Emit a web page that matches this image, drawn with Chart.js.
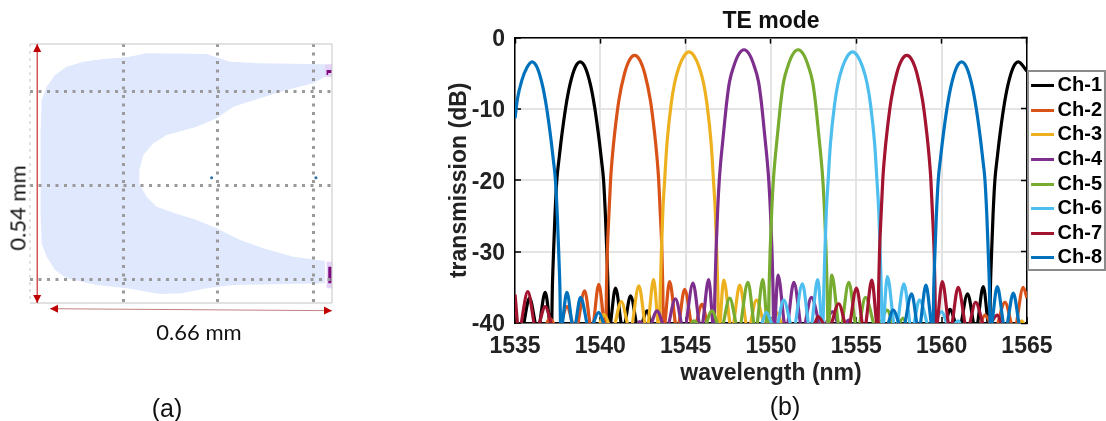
<!DOCTYPE html>
<html>
<head>
<meta charset="utf-8">
<title>TE mode</title>
<script src="https://cdn.jsdelivr.net/npm/chart.js@4"></script>
<style>
    html, body { margin: 0; padding: 0; background: #fff; }
    #page { position: relative; width: 1106px; height: 421px; overflow: hidden; }
    canvas { position: absolute; top: 0; }
    #layout { left: 0; }
    #spectrum { left: 430px; }
    .note { position: absolute; color: #111; white-space: nowrap; transform: translate(-50%, -50%); }
    .dim { font: 22px Lato, sans-serif; }
    .tag { font: 25px "Liberation Sans", sans-serif; }
</style>
</head>
<body>
<div id="page">
    <canvas id="layout" width="350" height="340"></canvas>
    <canvas id="spectrum" width="676" height="400"></canvas>
    <div class="note dim" style="left:199px;top:331px">0.66 mm</div>
    <div class="note dim" style="left:17px;top:208px;transform:translate(-50%,-50%) rotate(-90deg)">0.54 mm</div>
    <div class="note tag" style="left:167px;top:408px">(a)</div>
    <div class="note tag" style="left:785px;top:406px">(b)</div>
</div>
<script>
    // panel (b): wavelength in nm, transmission in dB
    const channels = ['Ch-1', 'Ch-2', 'Ch-3', 'Ch-4', 'Ch-5', 'Ch-6', 'Ch-7', 'Ch-8'];
    const colors = ['#000000', '#D95319', '#EDB120', '#7E2F8E', '#77AC30', '#4DBEEE', '#A2142F', '#0072BD'];
    const xTicks = [1535, 1540, 1545, 1550, 1555, 1560, 1565];
    const yTicks = [-40, -30, -20, -10, 0];

    const ch1Wave = [1535, 1535.38, 1535.85, 1536.33, 1536.77, 1537.14, 1537.19, 1537.26, 1537.34, 1537.45, 1537.57, 1537.69, 1537.97, 1538.22, 1538.52, 1538.82, 1539.12, 1539.42, 1539.67, 1539.95, 1540.07, 1540.19, 1540.3, 1540.38, 1540.45, 1540.5, 1540.89, 1541.33, 1541.77, 1542.25, 1542.75, 1543.1, 1560.15, 1560.48, 1561, 1561.52, 1562, 1562.44, 1562.81, 1562.86, 1562.93, 1563.01, 1563.12, 1563.24, 1563.36, 1563.64, 1563.89, 1564.19, 1564.49, 1565];
    const ch1Loss = [-41, -41, -36.5, -41, -35.7, -41, -35, -30, -25, -20, -17.2, -14.7, -9.8, -6.6, -4.2, -3.4, -4.2, -6.6, -9.8, -14.7, -17.2, -20, -25, -30, -35, -41, -35.1, -41, -36.2, -41, -38.3, -41, -41, -38.1, -41, -35.9, -41, -34.9, -41, -35, -30, -25, -20, -17.2, -14.7, -9.8, -6.6, -4.2, -3.4, -4.7];

    const ch2Wave = [1535, 1536.7, 1537.02, 1537.55, 1538.04, 1538.55, 1539.08, 1539.5, 1539.91, 1540.32, 1540.36, 1540.41, 1540.51, 1540.6, 1540.71, 1540.84, 1541.09, 1541.41, 1541.71, 1542.01, 1542.31, 1542.61, 1542.93, 1543.18, 1543.31, 1543.42, 1543.51, 1543.61, 1543.66, 1543.7, 1544.06, 1544.5, 1544.94, 1545.45, 1545.96, 1546.4, 1562.1, 1562.54, 1563.1, 1563.71, 1564.25, 1564.78, 1565];
    const ch2Loss = [-41, -41, -39.3, -41, -37.7, -41, -35.5, -41, -34.6, -41, -35, -30, -24.5, -20, -16.5, -13.4, -8.75, -5.1, -3.15, -2.5, -3.15, -5.1, -8.75, -13.4, -16.5, -20, -24.5, -30, -35, -41, -34.2, -41, -35.3, -41, -37.4, -41, -41, -38.9, -41, -37.1, -41, -35, -36.5];

    const ch3Wave = [1535, 1539.8, 1540.21, 1540.7, 1541.23, 1541.75, 1542.26, 1542.72, 1543.12, 1543.45, 1543.52, 1543.58, 1543.66, 1543.77, 1543.9, 1544.15, 1544.35, 1544.6, 1544.9, 1545.2, 1545.5, 1545.8, 1546.05, 1546.25, 1546.5, 1546.63, 1546.74, 1546.82, 1546.88, 1546.95, 1547.23, 1547.7, 1548.17, 1548.65, 1549.15, 1549.75, 1550.34, 1550.8, 1564.4, 1564.69, 1565];
    const ch3Loss = [-41, -41, -38.8, -41, -37, -41, -34.8, -41, -33.9, -41, -35, -30, -24.5, -20, -15, -9.3, -6.4, -4.2, -2.6, -2, -2.6, -4.2, -6.4, -9.3, -15, -20, -24.5, -30, -35, -41, -34, -41, -34.7, -41, -36.8, -41, -38.5, -41, -41, -39.7, -41];

    const ch4Wave = [1535, 1542, 1542.3, 1542.8, 1543.32, 1543.85, 1544.4, 1544.9, 1545.43, 1545.9, 1546.35, 1546.66, 1546.72, 1546.78, 1546.87, 1546.97, 1547.22, 1547.42, 1547.57, 1547.82, 1548.12, 1548.42, 1548.72, 1549.02, 1549.27, 1549.42, 1549.62, 1549.87, 1549.97, 1550.06, 1550.12, 1550.18, 1550.41, 1550.88, 1551.34, 1551.85, 1552.37, 1553, 1553.6, 1554.1, 1554.56, 1554.9, 1565];
    const ch4Loss = [-41, -41, -39.8, -41, -38.3, -41, -36.6, -41, -34.4, -41, -33.9, -41, -35, -30, -24.5, -20, -13.4, -8.75, -6.2, -4, -2.3, -1.7, -2.3, -4, -6.2, -8.75, -13.4, -20, -24.5, -30, -35, -41, -33.3, -41, -34.3, -41, -36.4, -41, -38.4, -41, -39.6, -41, -41];

    const ch5Wave = [1535, 1545.1, 1545.47, 1546, 1546.54, 1547.05, 1547.58, 1548.1, 1548.65, 1549.1, 1549.52, 1549.83, 1549.89, 1549.95, 1550.04, 1550.14, 1550.39, 1550.59, 1550.74, 1550.99, 1551.29, 1551.59, 1551.89, 1552.19, 1552.44, 1552.59, 1552.79, 1553.04, 1553.14, 1553.23, 1553.29, 1553.35, 1553.56, 1554.05, 1554.56, 1555.05, 1555.54, 1556.2, 1556.81, 1557.3, 1557.74, 1558.1, 1565];
    const ch5Loss = [-41, -41, -39.7, -41, -38.3, -41, -36.5, -41, -34.3, -41, -33.9, -41, -35, -30, -24.5, -20, -13.4, -8.75, -6.2, -4, -2.3, -1.7, -2.3, -4, -6.2, -8.75, -13.4, -20, -24.5, -30, -35, -41, -33.3, -41, -34.3, -41, -36.4, -41, -38.2, -41, -39.3, -41, -41];

    const ch6Wave = [1535, 1549.3, 1549.73, 1550.25, 1550.75, 1551.3, 1551.84, 1552.3, 1552.74, 1553.03, 1553.1, 1553.16, 1553.24, 1553.35, 1553.48, 1553.73, 1553.93, 1554.18, 1554.48, 1554.78, 1555.08, 1555.38, 1555.63, 1555.83, 1556.08, 1556.21, 1556.32, 1556.4, 1556.46, 1556.53, 1556.82, 1557.3, 1557.79, 1558.25, 1558.7, 1559.35, 1560, 1560.5, 1560.97, 1561.3, 1565];
    const ch6Loss = [-41, -41, -38.5, -41, -36.8, -41, -34.5, -41, -33.9, -41, -35, -30, -24.5, -20, -15, -9.3, -6.4, -4.2, -2.6, -2, -2.6, -4.2, -6.4, -9.3, -15, -20, -24.5, -30, -35, -41, -33.5, -41, -34.5, -41, -36.8, -41, -38.4, -41, -39.7, -41, -41];

    const ch7Wave = [1535, 1535.22, 1535.75, 1536.25, 1536.77, 1537.3, 1552.4, 1552.76, 1553.35, 1553.97, 1554.5, 1555.01, 1555.46, 1555.91, 1556.27, 1556.31, 1556.36, 1556.46, 1556.55, 1556.66, 1556.79, 1557.04, 1557.36, 1557.66, 1557.96, 1558.26, 1558.56, 1558.88, 1559.13, 1559.26, 1559.37, 1559.46, 1559.56, 1559.61, 1559.65, 1560.04, 1560.5, 1560.97, 1561.5, 1561.99, 1562.6, 1563.26, 1563.7, 1565];
    const ch7Loss = [-36, -41, -35.6, -41, -37.7, -41, -41, -39.1, -41, -37.3, -41, -35.1, -41, -34, -41, -35, -30, -24.5, -20, -16.5, -13.4, -8.75, -5.1, -3.15, -2.5, -3.15, -5.1, -8.75, -13.4, -16.5, -20, -24.5, -30, -35, -41, -34.2, -41, -35, -41, -37.1, -41, -38.9, -41, -41];

    const ch8Wave = [1535, 1535.15, 1535.4, 1535.7, 1536, 1536.3, 1536.6, 1536.85, 1537.13, 1537.25, 1537.37, 1537.48, 1537.56, 1537.63, 1537.68, 1538.04, 1538.44, 1538.84, 1539.37, 1539.9, 1540.4, 1556.7, 1557.16, 1557.7, 1558.24, 1558.66, 1559.08, 1559.49, 1559.54, 1559.61, 1559.69, 1559.8, 1559.92, 1560.04, 1560.32, 1560.57, 1560.87, 1561.17, 1561.47, 1561.77, 1562.02, 1562.3, 1562.42, 1562.54, 1562.65, 1562.73, 1562.8, 1562.85, 1563.26, 1563.73, 1564.2, 1564.65, 1565];
    const ch8Loss = [-11.3, -8.5, -6, -4.2, -3.4, -4.2, -6.6, -9.8, -14.7, -17.2, -20, -25, -30, -35, -41, -35.7, -41, -36.4, -41, -38.5, -41, -41, -38.2, -41, -35.9, -41, -34.7, -41, -35, -30, -25, -20, -17.2, -14.7, -9.8, -6.6, -4.2, -3.4, -4.2, -6.6, -9.8, -14.7, -17.2, -20, -25, -30, -35, -41, -34.9, -41, -35.8, -41, -41];

    const waves = [ch1Wave, ch2Wave, ch3Wave, ch4Wave, ch5Wave, ch6Wave, ch7Wave, ch8Wave];
    const losses = [ch1Loss, ch2Loss, ch3Loss, ch4Loss, ch5Loss, ch6Loss, ch7Loss, ch8Loss];

    // panel (a), device outline in mm
    const outlineX = [0.6435, 0.4914, 0.4212, 0.3666, 0.2262, 0.1794, 0.1248, 0.078, 0.039, 0.0117, -0.0078, -0.0195, -0.0218, -0.0218, -0.0195, -0.0078, 0.0117, 0.039, 0.1092, 0.1794, 0.2574, 0.3081, 0.3666, 0.429, 0.6435, 0.6435, 0.5694, 0.4992, 0.4446, 0.39, 0.3432, 0.2886, 0.2496, 0.2262, 0.2106, 0.209, 0.2184, 0.2418, 0.273, 0.3432, 0.39, 0.429, 0.4914, 0.5538, 0.6162, 0.6435];
    const outlineY = [0.4976, 0.4997, 0.5032, 0.5192, 0.5206, 0.5122, 0.5087, 0.5032, 0.4927, 0.4754, 0.4511, 0.4232, 0.3607, 0.18, 0.1244, 0.0966, 0.0688, 0.0514, 0.0375, 0.0306, 0.0188, 0.0201, 0.0306, 0.0375, 0.041, 0.0876, 0.0966, 0.114, 0.1314, 0.1557, 0.1731, 0.1883, 0.2008, 0.2217, 0.246, 0.2773, 0.3086, 0.3329, 0.3503, 0.3676, 0.385, 0.4094, 0.4267, 0.4441, 0.458, 0.4719];
    const padTopX = [0.6435, 0.66, 0.66, 0.6435];
    const padTopY = [0.4976, 0.4976, 0.4719, 0.4719];
    const padLowX = [0.6474, 0.66, 0.66, 0.6474];
    const padLowY = [0.0862, 0.0862, 0.0306, 0.0306];
    const markTopX = [0.6474, 0.6591, 0.6591, 0.651, 0.651, 0.6474];
    const markTopY = [0.4858, 0.4858, 0.4795, 0.4795, 0.4754, 0.4754];
    const markLowX = [0.6513, 0.6591, 0.6591, 0.6513];
    const markLowY = [0.0758, 0.0758, 0.041, 0.041];
    const dotX = [0.3783, 0.6224];
    const dotY = [0.2613, 0.2613];
    const gridX = [0.173, 0.391, 0.616];
    const gridY = [0.05, 0.244, 0.442];
    const arrowV = [-0.03, 0.54, -0.03, 0];
    const arrowH = [0, -0.0119, 0.66, -0.016];

    const toPoints = (xs, ys) => xs.map((x, i) => ({ x: x, y: ys[i] }));

    // legend key: clear on the left so the bar sits where the reference has it
    const swatch = (color) => {
        const c = document.createElement('canvas');
        c.width = 29;
        c.height = 3;
        const g = c.getContext('2d');
        g.fillStyle = color;
        g.fillRect(6, 0, 23, 3);
        return c;
    };

    const shape = (xs, ys, color) => ({
        data: toPoints(xs, ys),
        showLine: true,
        fill: 'shape',
        backgroundColor: color,
        borderColor: color,
        borderWidth: 0,
        pointRadius: 0
    });

    const drawArrow = (ctx, x1, y1, x2, y2, color) => {
        const a = Math.atan2(y2 - y1, x2 - x1);
        ctx.strokeStyle = color;
        ctx.fillStyle = '#c00000';
        ctx.lineWidth = 1;
        ctx.beginPath();
        ctx.moveTo(x1, y1);
        ctx.lineTo(x2, y2);
        ctx.stroke();
        [[x1, y1, a + Math.PI], [x2, y2, a]].forEach(([x, y, r]) => {
            ctx.save();
            ctx.translate(x, y);
            ctx.rotate(r);
            ctx.beginPath();
            ctx.moveTo(0, 0);
            ctx.lineTo(-8, -4);
            ctx.lineTo(-8, 4);
            ctx.closePath();
            ctx.fill();
            ctx.restore();
        });
    };

    const layoutFrame = {
        id: 'layoutFrame',
        afterDraw(chart) {
            const { ctx, chartArea: area, scales: { x, y } } = chart;
            ctx.save();
            ctx.strokeStyle = '#c4c4c4';
            ctx.lineWidth = 1;
            ctx.beginPath();
            ctx.moveTo(area.left, area.top);
            ctx.lineTo(area.right, area.top);
            ctx.lineTo(area.right, area.bottom);
            ctx.lineTo(area.left, area.bottom);
            ctx.stroke();
            ctx.setLineDash([3, 4]);
            ctx.beginPath();
            ctx.moveTo(area.left, area.top);
            ctx.lineTo(area.left, area.bottom);
            ctx.stroke();
            ctx.setLineDash([]);
            drawArrow(ctx, x.getPixelForValue(arrowV[0]), y.getPixelForValue(arrowV[1]), x.getPixelForValue(arrowV[2]), y.getPixelForValue(arrowV[3]), '#c00000');
            drawArrow(ctx, x.getPixelForValue(arrowH[0]), y.getPixelForValue(arrowH[1]), x.getPixelForValue(arrowH[2]), y.getPixelForValue(arrowH[3]), '#c08080');
            ctx.restore();
        }
    };

    const dotted = {
        color: '#9a9a9a',
        lineWidth: 3,
        drawTicks: false,
        z: 1
    };

    new Chart(document.getElementById('layout'), {
        type: 'scatter',
        data: {
            datasets: [
                shape(markTopX, markTopY, '#7a0a7e'),
                shape(markLowX, markLowY, '#7a0a7e'),
                shape(padTopX, padTopY, '#e4d3f6'),
                shape(padLowX, padLowY, '#e4d3f6'),
                shape(outlineX, outlineY, 'rgb(223, 232, 252)'),
                { data: toPoints(dotX, dotY), pointRadius: 1.5, backgroundColor: '#2a6fa8', borderWidth: 0 }
            ]
        },
        options: {
            responsive: false,
            animation: false,
            layout: { padding: { top: 44, right: 18 } },
            plugins: { legend: { display: false }, title: { display: false }, tooltip: { enabled: false } },
            scales: {
                x: {
                    min: -0.0468,
                    max: 0.66,
                    afterBuildTicks: (s) => { s.ticks = gridX.map((v) => ({ value: v })); },
                    afterFit: (s) => { s.height = 37; },
                    ticks: { display: false },
                    border: { display: false, dash: [3, 5.5] },
                    grid: dotted
                },
                y: {
                    min: 0,
                    max: 0.54,
                    afterBuildTicks: (s) => { s.ticks = gridY.map((v) => ({ value: v })); },
                    afterFit: (s) => { s.width = 30; },
                    ticks: { display: false },
                    border: { display: false, dash: [3, 5.5] },
                    grid: dotted
                }
            }
        },
        plugins: [layoutFrame]
    });

    const legendFrame = {
        id: 'legendFrame',
        afterLayout(chart) {
            chart.legend.top += 71;
            chart.legend.bottom += 71;
        },
        afterDraw(chart) {
            const { ctx, legend } = chart;
            ctx.save();
            ctx.strokeStyle = '#8a8a8a';
            ctx.lineWidth = 2;
            ctx.strokeRect(legend.left + 1, legend.top, 77, 199);
            ctx.restore();
        }
    };

    const axisFont = { family: '"Liberation Sans", Arial, sans-serif', weight: 'bold', size: 23 };
    const gridLine = { color: '#e4e4e4', lineWidth: 2, tickColor: '#000', tickWidth: 1.5, tickLength: -6 };
    const edgeLine = { drawOnChartArea: false, tickColor: '#000', tickWidth: 1.5, tickLength: -6 };

    new Chart(document.getElementById('spectrum'), {
        type: 'line',
        data: {
            datasets: channels.map((name, i) => ({
                label: name,
                data: toPoints(waves[i], losses[i]),
                borderColor: colors[i],
                backgroundColor: colors[i],
                borderWidth: 3.2,
                pointRadius: 0,
                pointStyle: swatch(colors[i]),
                cubicInterpolationMode: 'monotone',
                order: channels.length - i
            }))
        },
        options: {
            responsive: false,
            animation: false,
            layout: { padding: { top: 0, right: -6 } },
            plugins: {
                tooltip: { enabled: false },
                title: {
                    display: true,
                    text: 'TE mode',
                    color: '#111',
                    font: axisFont,
                    padding: { top: 8, bottom: 2 }
                },
                legend: {
                    position: 'right',
                    align: 'start',
                    labels: {
                        usePointStyle: true,
                        pointStyleWidth: 16,
                        boxHeight: 3,
                        padding: 4.6,
                        color: '#000',
                        font: { family: axisFont.family, weight: 'bold', size: 20 },
                        sort: (a, b) => a.datasetIndex - b.datasetIndex
                    }
                }
            },
            scales: {
                x: {
                    type: 'linear',
                    min: 1535,
                    max: 1565,
                    afterBuildTicks: (s) => { s.ticks = xTicks.map((v) => ({ value: v })); },
                    afterFit: (s) => { s.height = 77; },
                    ticks: { color: '#222', font: axisFont, padding: 16, maxRotation: 0, callback: (v) => String(v) },
                    border: { color: '#000', width: 1.5 },
                    grid: gridLine,
                    title: {
                        display: true,
                        text: 'wavelength (nm)',
                        color: '#222',
                        font: axisFont,
                        padding: { top: 0, bottom: 13 }
                    }
                },
                x2: {
                    type: 'linear',
                    position: 'top',
                    min: 1535,
                    max: 1565,
                    afterBuildTicks: (s) => { s.ticks = xTicks.map((v) => ({ value: v })); },
                    afterFit: (s) => { s.height = 0; },
                    ticks: { display: false },
                    border: { color: '#000', width: 1.5 },
                    grid: edgeLine
                },
                y: {
                    min: -40,
                    max: 0,
                    afterBuildTicks: (s) => { s.ticks = yTicks.map((v) => ({ value: v })); },
                    afterFit: (s) => { s.width = 85; },
                    ticks: { color: '#222', font: axisFont, padding: 16, labelOffset: 2 },
                    border: { color: '#000', width: 1.5 },
                    grid: gridLine,
                    title: {
                        display: true,
                        text: 'transmission (dB)',
                        color: '#222',
                        font: axisFont,
                        padding: { top: 16, bottom: 0 }
                    }
                },
                y2: {
                    position: 'right',
                    min: -40,
                    max: 0,
                    afterBuildTicks: (s) => { s.ticks = yTicks.map((v) => ({ value: v })); },
                    afterFit: (s) => { s.width = 0; },
                    ticks: { display: false },
                    border: { color: '#000', width: 1.5 },
                    grid: edgeLine
                }
            }
        },
        plugins: [legendFrame]
    });
</script>
</body>
</html>
